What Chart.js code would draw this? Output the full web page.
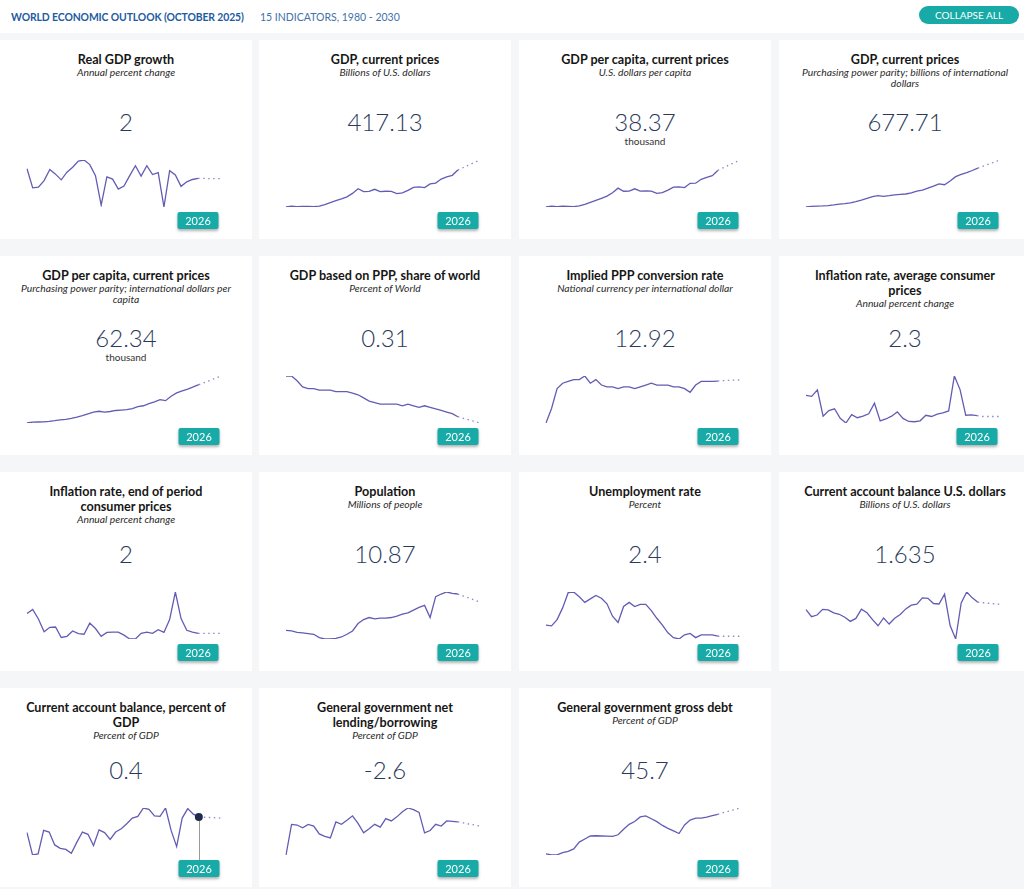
<!DOCTYPE html>
<html>
<head>
<meta charset="utf-8">
<title>World Economic Outlook</title>
<script src="https://cdn.jsdelivr.net/npm/chart.js@4.4.1/dist/chart.umd.min.js"></script>
<style>
  body { margin: 0; width: 1024px; height: 889px; overflow: hidden; background: #f5f6f8; font-family: Lato, "Open Sans", sans-serif; position: relative; }
  #top { position: absolute; left: 0; top: 0; width: 1024px; height: 33px; background: #fff; }
  #top .t1 { position: absolute; left: 11px; top: 11px; font-size: 10.4px; font-weight: 700; color: #1d5b9f; letter-spacing: -0.1px; }
  #top .t2 { position: absolute; left: 260px; top: 11px; font-size: 10.5px; color: #4371a8; }
  #collapse { position: absolute; left: 919px; top: 6px; width: 100px; height: 18px; border-radius: 9px; background: #17aaa6; color: #fff; font-size: 10px; line-height: 18px; text-align: center; }
  .card { position: absolute; width: 252px; height: 199px; background: #fff; }
  .card .head { position: absolute; left: 0; right: 0; top: 12px; text-align: center; }
  .card .ttl { font-size: 12.6px; font-weight: 700; line-height: 15px; color: #161616; white-space: nowrap; }
  .card .sub { font-size: 10.3px; font-style: italic; line-height: 11px; color: #2a2a2a; white-space: nowrap; }
  .card .num { position: absolute; left: 0; right: 0; top: 67px; text-align: center; font-size: 24px; font-weight: 300; line-height: 30px; color: #2b3a5c; }
  .card .unit { position: absolute; left: 0; right: 0; top: 95px; text-align: center; font-size: 10px; line-height: 12px; color: #333; }
  .card canvas { position: absolute; left: 0; top: 108px; }
</style>
</head>
<body>
<div id="top">
  <span class="t1">WORLD ECONOMIC OUTLOOK (OCTOBER 2025)</span>
  <span class="t2">15 INDICATORS, 1980 - 2030</span>
  <div id="collapse">COLLAPSE ALL</div>
</div>
<script>
const years = [1995, 1996, 1997, 1998, 1999,
  2000, 2001, 2002, 2003, 2004, 2005, 2006, 2007, 2008, 2009,
  2010, 2011, 2012, 2013, 2014, 2015, 2016, 2017, 2018, 2019,
  2020, 2021, 2022, 2023, 2024, 2025, 2026, 2027, 2028, 2029, 2030];
const lastActual = 2026;

const realGdpGrowth = [null, 4.5, -0.5, -0.3, 1.4,
  4.3, 3.1, 1.6, 3.6, 4.9, 6.5, 6.8, 5.6, 2.7, -5.0,
  2.4, 1.8, -0.8, 0.0, 2.7, 5.3, 2.6, 5.3, 3.0, 3.5,
  -5.5, 4.0, 2.9, -0.1, 1.1, 1.7, 2.0, 2.0, 1.9, 1.9, 1.9];
const gdpCurrent = [58, 66, 61, 65, 63,
  61, 67, 82, 100, 119, 137, 157, 190, 235, 207,
  209, 230, 208, 211, 209, 188, 196, 219, 249, 253,
  246, 282, 291, 330, 350, 366, 417.13, 442, 467, 491, 515];
const gdpPerCapita = [5.6, 6.4, 5.9, 6.3, 6.1,
  5.9, 6.6, 8.0, 9.8, 11.6, 13.4, 15.3, 18.4, 22.5, 19.7,
  19.9, 21.9, 19.8, 20.1, 19.9, 17.8, 18.5, 20.7, 23.4, 23.7,
  23.0, 26.8, 26.9, 30.4, 32.1, 33.7, 38.37, 40.8, 43.1, 45.4, 47.7];
const gdpPpp = [140, 150, 153, 155, 159,
  168, 179, 186, 197, 214, 234, 258, 282, 296, 288,
  296, 309, 314, 320, 336, 360, 374, 402, 428, 460,
  448, 500, 560, 590, 615, 645, 677.71, 705, 733, 762, 790];
const gdpPppPerCapita = [13.5, 14.5, 14.8, 15.0, 15.5,
  16.4, 17.5, 18.2, 19.3, 21.0, 22.9, 25.1, 27.3, 28.4, 27.4,
  28.1, 29.4, 29.9, 30.4, 31.9, 34.2, 35.4, 38.0, 40.3, 43.1,
  41.9, 47.5, 51.7, 54.3, 56.6, 59.3, 62.34, 64.9, 67.6, 70.4, 73.2];
const pppShare = [0.44, 0.44, 0.425, 0.405, 0.40,
  0.40, 0.395, 0.395, 0.395, 0.39, 0.39, 0.39, 0.385, 0.38, 0.37,
  0.36, 0.355, 0.35, 0.35, 0.35, 0.35, 0.345, 0.35, 0.345, 0.34,
  0.345, 0.34, 0.335, 0.33, 0.325, 0.32, 0.31, 0.305, 0.30, 0.295, 0.29];
const pppRate = [10.6, 11.4, 12.5, 12.8, 12.9,
  13.0, 13.0, 13.2, 12.8, 13.0, 12.7, 12.6, 12.6, 12.5, 12.6,
  12.6, 12.5, 12.6, 12.7, 12.8, 12.7, 12.7, 12.7, 12.6, 12.6,
  12.5, 12.3, 12.7, 12.9, 12.9, 12.9, 12.92, 12.94, 12.96, 12.97, 12.98];
const inflationAvg = [null, 8.8, 8.5, 10.6, 2.1,
  3.9, 4.5, 1.4, -0.1, 2.6, 1.6, 2.1, 2.9, 6.3, 0.6,
  1.2, 2.1, 3.5, 1.4, 0.4, 0.3, 0.6, 2.4, 2.0, 2.8,
  3.2, 3.8, 15.1, 10.7, 2.4, 2.5, 2.3, 2.0, 2.0, 2.0, 2.0];
const inflationEop = [null, 8.6, 10.0, 6.8, 2.5,
  4.0, 4.1, 0.6, 1.0, 2.8, 1.9, 1.7, 5.4, 3.6, 1.0,
  2.3, 2.4, 2.4, 1.4, 0.1, 0.1, 2.0, 2.4, 2.0, 3.2,
  2.3, 6.6, 15.8, 6.9, 3.0, 2.4, 2.0, 2.0, 2.0, 2.0, 2.0];
const population = [10.33, 10.32, 10.30, 10.29, 10.28,
  10.27, 10.22, 10.20, 10.20, 10.21, 10.23, 10.27, 10.32, 10.43, 10.49,
  10.52, 10.50, 10.51, 10.51, 10.52, 10.54, 10.57, 10.59, 10.63, 10.67,
  10.70, 10.52, 10.83, 10.87, 10.90, 10.88, 10.87, 10.84, 10.81, 10.78, 10.75];
const unemployment = [4.0, 3.9, 4.8, 6.5, 8.7,
  8.8, 8.1, 7.3, 7.8, 8.3, 7.9, 7.1, 5.3, 4.4, 6.7,
  7.3, 6.7, 7.0, 7.0, 6.1, 5.0, 4.0, 2.9, 2.2, 2.0,
  2.6, 2.8, 2.2, 2.6, 2.6, 2.6, 2.4, 2.4, 2.4, 2.4, 2.4];
const currentAccountUsd = [-1.4, -4.3, -3.6, -1.3, -1.5,
  -2.7, -3.3, -4.5, -6.2, -5.0, -1.2, -2.7, -5.5, -8.0, -4.8,
  -7.3, -4.9, -3.4, -1.1, 0.4, 0.8, 3.4, 3.2, 1.1, 0.9,
  4.9, -7.9, -13.4, 1.3, 5.8, 3.4, 1.635, 1.4, 1.2, 1.0, 0.8];
const currentAccountPct = [-2.4, -6.4, -6.2, -2.0, -2.3,
  -4.6, -5.2, -5.4, -6.1, -4.1, -2.3, -2.7, -4.7, -1.9, -2.4,
  -3.6, -2.3, -1.7, -0.8, 0.2, 0.5, 2.0, 1.75, 0.6, 0.5,
  2.0, -2.0, -4.9, 0.2, 1.9, 0.9, 0.4, 0.35, 0.3, 0.25, 0.2];
const netLending = [-12.3, -3.3, -3.5, -4.3, -3.3,
  -3.8, -6.1, -6.8, -7.3, -2.6, -3.3, -2.1, -0.8, -3.0, -5.8,
  -4.6, -3.3, -4.1, -1.6, -2.3, -1.1, 0.4, 1.5, 1.0, 0.2,
  -5.8, -5.1, -3.3, -3.8, -2.3, -2.4, -2.6, -2.9, -3.2, -3.5, -3.8];
const grossDebt = [13.5, 12.5, 12.6, 14.5, 15.5,
  17.5, 23.0, 25.5, 28.0, 28.2, 28.0, 27.8, 27.6, 29.0, 33.5,
  37.5, 39.8, 43.5, 44.4, 42.0, 39.7, 36.6, 34.2, 32.1, 30.0,
  37.0, 41.0, 42.5, 42.6, 43.3, 44.5, 45.7, 47.0, 48.2, 49.5, 50.8];

const cards = [
  { series: realGdpGrowth, title: 'Real GDP growth', sub: 'Annual percent change' },
  { series: gdpCurrent, title: 'GDP, current prices', sub: 'Billions of U.S. dollars' },
  { series: gdpPerCapita, title: 'GDP per capita, current prices', sub: 'U.S. dollars per capita', unit: 'thousand' },
  { series: gdpPpp, title: 'GDP, current prices', sub: 'Purchasing power parity; billions of international<br>dollars' },
  { series: gdpPppPerCapita, title: 'GDP per capita, current prices', sub: 'Purchasing power parity; international dollars per<br>capita', unit: 'thousand' },
  { series: pppShare, title: 'GDP based on PPP, share of world', sub: 'Percent of World' },
  { series: pppRate, title: 'Implied PPP conversion rate', sub: 'National currency per international dollar' },
  { series: inflationAvg, title: 'Inflation rate, average consumer<br>prices', sub: 'Annual percent change' },
  { series: inflationEop, title: 'Inflation rate, end of period<br>consumer prices', sub: 'Annual percent change' },
  { series: population, title: 'Population', sub: 'Millions of people' },
  { series: unemployment, title: 'Unemployment rate', sub: 'Percent' },
  { series: currentAccountUsd, title: 'Current account balance U.S. dollars', sub: 'Billions of U.S. dollars' },
  { series: currentAccountPct, title: 'Current account balance, percent of<br>GDP', sub: 'Percent of GDP', hover: true },
  { series: netLending, title: 'General government net<br>lending/borrowing', sub: 'Percent of GDP' },
  { series: grossDebt, title: 'General government gross debt', sub: 'Percent of GDP' }
];

const colLeft = [0, 259, 519, 779];
const rowTop = [40, 256, 472, 688];
const lineColor = '#625cb4';
const dotColor = '#8d88c8';

// year tag under the last actual value, plus the hover marker on one card
const badgePlugin = {
  id: 'badge',
  afterDatasetsDraw(chart, args, opts) {
    const pt = chart.getDatasetMeta(0).data[opts.index];
    const ctx = chart.ctx;
    const w = 41, h = 17, top = 64;
    const x = Math.round(pt.x);
    ctx.save();
    if (opts.hover) {
      ctx.strokeStyle = '#9a9a9a';
      ctx.lineWidth = 1;
      ctx.beginPath();
      ctx.moveTo(x + 0.5, pt.y);
      ctx.lineTo(x + 0.5, top);
      ctx.stroke();
      ctx.fillStyle = '#1e2b4d';
      ctx.beginPath();
      ctx.arc(pt.x, pt.y, 4, 0, Math.PI * 2);
      ctx.fill();
    }
    ctx.shadowColor = 'rgba(0,0,0,0.3)';
    ctx.shadowBlur = 3;
    ctx.shadowOffsetY = 2;
    ctx.fillStyle = '#17aaa6';
    ctx.beginPath();
    ctx.roundRect(x - w / 2, top, w, h, 2);
    ctx.fill();
    ctx.shadowColor = 'transparent';
    ctx.fillStyle = '#fff';
    ctx.font = '11px Lato, sans-serif';
    ctx.textAlign = 'center';
    ctx.textBaseline = 'middle';
    ctx.fillText(opts.label, x, top + h / 2 + 0.5);
    ctx.restore();
  }
};

cards.forEach((c, i) => {
  const card = document.createElement('div');
  card.className = 'card';
  card.style.left = colLeft[i % 4] + 'px';
  card.style.top = rowTop[Math.floor(i / 4)] + 'px';

  const first = c.series.findIndex(v => v !== null);
  const values = c.series.slice(first);
  const labels = years.slice(first);
  const cut = labels.indexOf(lastActual);

  card.innerHTML =
    '<div class="head"><div class="ttl">' + c.title + '</div><div class="sub">' + c.sub + '</div></div>' +
    '<div class="num">' + String(values[cut]) + '</div>' +
    (c.unit ? '<div class="unit">' + c.unit + '</div>' : '');
  const canvas = document.createElement('canvas');
  canvas.width = 252;
  canvas.height = 88;
  card.appendChild(canvas);
  document.body.appendChild(card);

  new Chart(canvas, {
    type: 'line',
    data: {
      labels: labels,
      datasets: [{
        data: values,
        borderColor: lineColor,
        borderWidth: 1.3,
        pointRadius: 0,
        fill: false,
        tension: 0,
        segment: {
          borderDash: s => s.p0DataIndex >= cut ? [1.5, 3.5] : undefined,
          borderColor: s => s.p0DataIndex >= cut ? dotColor : undefined
        }
      }]
    },
    options: {
      responsive: false,
      animation: false,
      events: [],
      layout: { padding: { left: 27, right: 31, top: 12, bottom: 29 } },
      plugins: {
        legend: { display: false },
        tooltip: { enabled: false },
        badge: { index: cut, label: String(lastActual), hover: !!c.hover }
      },
      scales: {
        x: { display: false },
        y: { display: false, min: Math.min(...values), max: Math.max(...values) }
      }
    },
    plugins: [badgePlugin]
  });
});
</script>
</body>
</html>
